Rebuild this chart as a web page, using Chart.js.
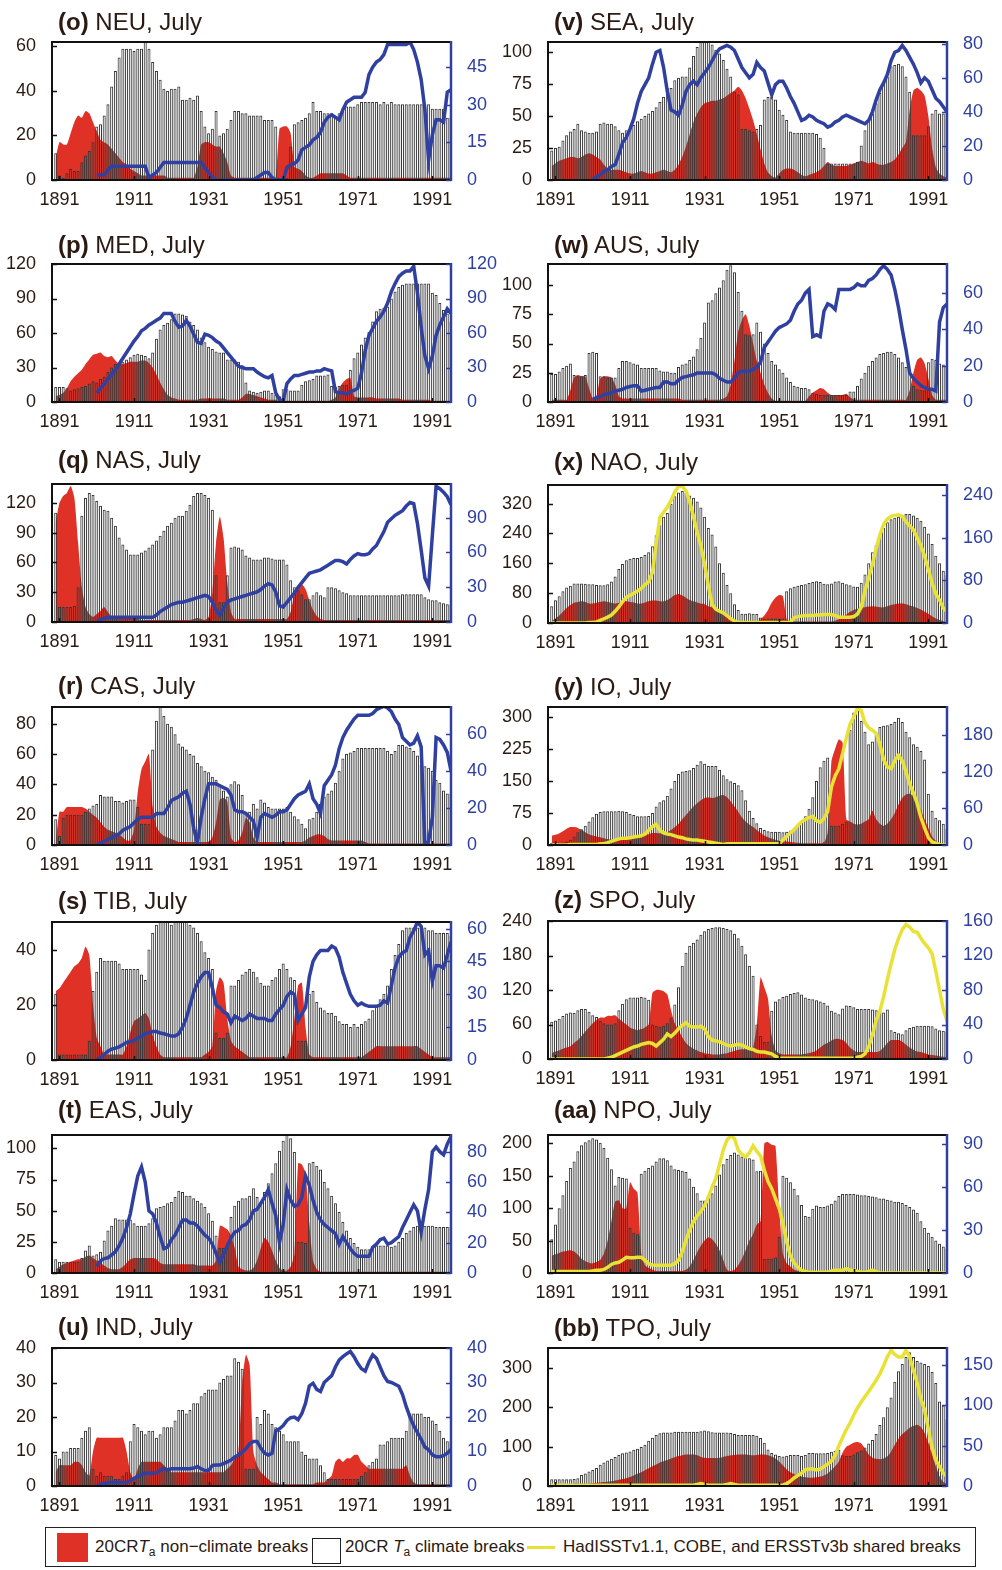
<!DOCTYPE html>
<html>
<head>
<meta charset="utf-8">
<script src="https://cdn.jsdelivr.net/npm/chart.js@4.4.0/dist/chart.umd.min.js"></script>
<style>
  body { margin: 0; width: 1002px; height: 1570px; background: #fff; position: relative; overflow: hidden;
         font-family: 'Liberation Sans', Arial, sans-serif; color: #2a1a12; }
  canvas.panel { position: absolute; }
  .title { position: absolute; font-size: 24px; line-height: 28px; white-space: nowrap; }
  #legend { position: absolute; left: 45px; top: 1527px; width: 931px; height: 40px; border: 1px solid #222; box-sizing: border-box; font-size: 17px; }
  #legend .it { position: absolute; top: 9px; white-space: nowrap; }
  #legend sub { font-size: 12px; vertical-align: -4px; }
</style>
</head>
<body>
<div id="charts"></div>
<div id="legend">
  <div style="position:absolute;left:11px;top:5px;width:31px;height:29px;background:#df3126"></div>
  <div class="it" style="left:49px">20CR<i>T</i><sub>a</sub> non−climate breaks</div>
  <div style="position:absolute;left:266px;top:10px;width:27px;height:24px;border:1.5px solid #222"></div>
  <div class="it" style="left:299px">20CR <i>T</i><sub>a</sub> climate breaks</div>
  <div style="position:absolute;left:481px;top:18px;width:28px;height:3px;background:#e9e236"></div>
  <div class="it" style="left:517px">HadISSTv1.1, COBE, and ERSSTv3b shared breaks</div>
</div>
<script>
// years: bars and red areas run 1890-1996, blue lines 1901-1996, yellow lines 1890-1996
const firstYear = 1890;
const blueStart = 1901;
const yellowStart = 1890;
const xTicks = [1891, 1911, 1931, 1951, 1971, 1991];

// (o) NEU
const neuBars = [12,2,1,3,5,4,4,8,11,13, 17,24,25,29,34,42,49,55,59,59, 59,58,59,59,62,59,53,49,45,41,
  40,41,41,42,36,36,37,36,38,31, 24,21,23,31,20,21,23,27,31,31, 30,30,29,29,29,29,27,27,27,24,
  1,1,1,15,25,26,27,28,30,35, 31,31,30,30,30,28,30,31,33,33, 33,34,35,35,35,35,35,34,35,34,
  35,34,34,34,34,34,34,34,34,34, 34,32,32,32,32,28,28];
const neuRed = [10,17,16,16,21,26,29,28,31,30, 26,22,18,17,16,14,12,10,8,7, 5,4,3,2,2,2,2,2,2,2,
  1,1,1,1,1,1,1,1,6,16, 17,17,16,15,15,12,8,2,1,1, 1,1,1,1,1,1,1,1,1,1,
  23,24,24,21,6,5,4,2,1,1, 2,3,3,3,3,3,3,3,2,1, 1,1,1,1,1,1,1,1,1,1,
  1,1,1,1,1,1,1,1,1,1, 1,1,1,1,1,1,1];
const neuLine = [2,2,2,4,5.5,5.5,5.5,5.5,5.5, 5.5,5.5,5.5,5.5,5.5,1,2,3,5,7, 7,7,7,7,7,7,7,7,7,7,
  5,3,1,0,0,0,0,0,0,0, 0,0,0,0,1,2,3,3,1,0, 0,0,5,6,6.5,8,12,13,14,16,
  17,19,23,25,26,25,24,28,31,32, 33,33,33,35,42,45,47,48,50,54, 54,54,54,54,54,55,52,47,40,28,
  8,18,24,24,23,35,36];
const neuTicks = [0, 20, 40, 60];
const neuTicks2 = [0, 15, 30, 45];

// (p) MED
const medBars = [13,13,13,12,10,11,12,13,14,16, 18,17,20,22,26,30,33,34,35,37, 39,41,42,41,40,38,43,55,63,67,
  69,72,77,77,76,75,70,67,63,56, 52,48,46,44,43,43,37,37,37,35, 32,17,10,9,8,9,10,10,8,6,
  5,11,11,10,10,10,15,18,19,20, 23,23,23,24,14,13,14,15,15,28, 38,43,50,56,61,70,79,81,82,83,
  90,96,100,102,103,103,103,103,103,103, 103,95,93,86,80,77,70];
const medRed = [5,6,8,12,18,22,25,28,33,37, 41,42,43,40,39,40,36,33,33,34, 35,35,35,36,36,34,30,24,17,11,
  6,4,3,2,2,2,2,2,2,3, 3,3,3,3,3,3,2,2,2,2, 4,7,7,6,5,4,3,2,2,2,
  1,1,1,1,1,1,1,1,1,1, 1,1,1,1,2,4,12,17,20,21, 5,4,4,4,4,4,3,3,3,3,
  3,3,3,2,2,2,2,2,2,2, 2,1,1,1,1,1,1];
const medLine = [8,12,16,20,24,28,33,38,43, 48,53,57,62,64,67,69,71,73,77, 77,77,70,65,66,71,66,59,52,51,
  59,58,56,53,51,47,43,39,35,31, 30,29,29,29,26,24,22,21,23,8, 2,1,16,20,23,23,24,25,26,26,
  27,27,29,28,27,9,8,8,7,9, 10,12,25,45,58,64,70,74,79,86, 96,103,109,112,114,114,118,95,65,40,
  29,40,58,67,74,81,77];
const medTicks = [0, 30, 60, 90, 120];
const medTicks2 = [0, 30, 60, 90, 120];

// (q) NAS
const nasBars = [110,15,15,15,15,16,35,107,125,130, 128,122,117,113,112,105,97,85,78,73, 68,68,68,70,72,75,78,82,87,92,
  97,100,105,107,107,112,118,127,130,130, 128,125,113,47,20,20,47,75,76,75, 73,67,65,63,63,63,65,65,64,63,
  63,63,58,42,35,32,28,23,23,27, 30,27,25,35,35,34,32,30,29,27, 27,27,27,27,27,27,27,27,27,27,
  27,27,27,28,28,28,28,28,28,25, 23,22,22,20,19,18,17];
const nasRed = [100,120,127,130,137,125,80,35,15,8, 5,8,11,15,10,5,3,3,3,3, 3,3,3,2,2,2,2,2,2,2,
  2,2,2,2,2,2,2,3,4,3, 2,5,30,80,106,85,40,10,3,3, 3,3,3,3,3,3,3,3,3,3,
  3,3,3,10,28,36,38,33,22,12, 6,3,2,2,2,2,2,2,2,2, 2,2,2,2,2,2,2,2,2,2,
  2,2,2,2,2,2,2,2,2,2, 2,2,2,2,2,2,2];
const nasLine = [1,2,3,4,4,4,4,4,4, 4,4,4,4,4,4,4,6,9,11, 13,15,16,17,17,18,19,20,21,22,
  23,22,17,10,6,12,17,19,20,21, 22,23,24,25,26,28,31,33,32,26, 14,13,17,21,25,30,34,38,42,43,
  44,45,47,49,51,53,53,52,50,54, 57,59,58,58,59,63,66,72,78,86, 89,92,94,96,100,103,102,85,62,38,
  31,75,117,115,112,108,101];
const nasTicks = [0, 30, 60, 90, 120];
const nasTicks2 = [0, 30, 60, 90];

// (r) CAS
const casBars = [17,6,18,20,20,20,20,20,22,24, 26,27,33,32,32,32,29,29,28,29, 30,30,25,14,14,14,63,82,91,85,
  80,78,73,67,65,63,60,59,54,52, 49,48,45,43,40,36,32,40,42,40, 33,22,22,27,24,30,28,25,24,24,
  24,24,25,22,19,17,14,11,17,18, 22,27,32,34,36,41,49,57,60,61, 62,64,64,64,64,64,64,64,64,62,
  60,62,66,66,65,64,62,59,53,52, 51,49,43,41,36,34,34];
const casRed = [2,22,22,25,25,25,25,25,24,22, 20,18,15,12,10,9,8,7,5,3, 3,10,35,50,55,60,25,12,8,6,
  5,4,3,2,2,2,2,2,2,2, 2,2,5,15,30,31,29,5,2,3, 8,18,15,5,2,2,2,2,2,2,
  2,2,2,2,2,2,2,3,5,6, 7,7,6,4,3,3,3,3,3,3, 3,3,3,2,1,1,1,1,1,1,
  1,1,1,1,1,1,1,1,1,1, 1,1,1,1,1,1,1];
const casLine = [0,1,2,3,4,5,6,8,9, 10,12,14,15,15,15,15,17,17,17, 20,24,25,26,28,29,22,9,1,15,
  25,33,33,33,32,31,30,27,19,18, 18,17,15,13,4,15,17,16,15,16, 18,18,19,22,25,27,28,29,33,25,
  22,17,32,35,38,43,52,58,62,65, 68,70,70,70,70,71,73,74,75,74, 72,68,65,58,56,54,55,59,53,0,
  2,15,58,57,54,50,40];
const casTicks = [0, 20, 40, 60, 80];
const casTicks2 = [0, 20, 40, 60];

// (s) TIB
const tibBars = [24,2,2,2,2,2,2,2,2,7, 25,32,37,36,36,36,36,35,33,33, 33,33,33,31,29,40,46,49,50,50,
  50,49,50,50,50,50,49,48,46,43, 39,37,33,10,8,8,10,27,27,29, 31,32,33,32,30,28,27,27,29,30,
  33,35,33,30,29,7,7,7,24,25, 21,19,18,17,17,16,14,13,13,12, 13,12,13,14,15,18,20,22,24,27,
  33,38,42,47,48,48,48,48,48,48, 47,47,46,46,46,46,45];
const tibRed = [25,26,28,30,32,34,35,37,41,38, 20,8,5,2,2,2,2,2,2,5, 10,14,15,16,17,15,9,5,2,1,
  1,1,1,1,1,1,1,1,1,1, 2,3,5,25,30,28,15,7,5,4, 3,2,1,1,1,1,1,1,1,1,
  1,1,1,5,15,27,28,12,2,1, 1,1,1,1,1,1,1,1,1,1, 1,1,1,2,3,4,5,5,5,5,
  5,5,5,5,5,5,5,5,4,3, 2,1,1,1,1,1,1];
const tibLine = [0,1,2.5,4,5,5.4,6,7,8, 8.4,9,10,11,12,12.5,13,13,12.3,12, 11.5,11,11,12,15,19,25,31,35,38,
  40,40,33,25,24,22,21,17,20,19, 18,19,21,20,19,19,19,18,18,21, 23,25,29,31,30,18,21,24,38,45,
  48,50,50,50,52,51,47,40,35,30, 27,25,26,25,24.5,24.5,24.5,25,27,26, 34,42,47,49,50,56,59,63,61,48,
  50,36,43,43,42,48,54];
const tibTicks = [0, 20, 40];
const tibTicks2 = [0, 15, 30, 45, 60];

// (t) EAS
const easBars = [11,9,9,9,9,9,9,12,18,22, 14,15,17,26,34,38,44,43,43,43, 43,40,38,38,38,40,44,52,53,54,
  56,57,61,66,65,62,62,60,58,56, 53,48,42,30,20,20,22,45,54,58, 60,60,62,68,61,57,65,72,80,88,
  98,106,111,108,97,25,25,24,88,89, 86,83,73,68,62,56,49,41,34,28, 24,21,19,19,19,20,22,22,22,22,
  21,22,25,28,32,34,37,38,38,38, 38,38,37,37,37,37,37];
const easRed = [3,5,7,8,9,10,11,11,13,14, 12,10,8,6,4,3,3,3,5,8, 11,12,12,12,12,12,12,11,8,7,
  7,7,7,7,7,7,7,7,6,6, 6,6,6,10,38,37,35,30,20,5, 3,2,2,4,10,20,28,25,18,10,
  4,2,2,5,15,88,87,80,40,10, 3,1,1,1,1,1,1,1,1,1, 1,1,1,1,1,1,1,1,1,1,
  1,1,1,1,1,1,1,1,1,1, 1,1,1,1,1,1,1];
const easLine = [4.4,8,9.5,10,12,14,18,23,30, 39,52,64,70,60,41,39,33,24,16, 17,22,25,30,35,35,33,33,31,28,
  25,23,19,13,7,12,18,23,27,28, 31,32,35,41,42,46,50,55,46,38, 20,32,55,48,44,45,50,64,58,48,
  40,35,32,30,28,26,19,24,20,16, 13,11,11,11,11,17,19,22,23,19, 20,22,24,30,35,40,45,41,27,42,
  55,80,83,80,78,85,90];
const easTicks = [0, 25, 50, 75, 100];
const easTicks2 = [0, 20, 40, 60, 80];

// (u) IND
const indBars = [9,8,10,10,11,11,11,14,16,17, 5,3,4,3,3,3,2,2,3,4, 13,18,17,16,15,16,16,14,15,17,
  17,17,19,22,22,21,22,24,24,26, 27,28,28,28,30,31,32,32,37,36, 34,5,5,5,20,18,22,21,18,17,
  16,15,13,13,13,13,10,9,8,8, 8,6,4,2,2,2,2,2,2,2, 2,2,3,4,6,7,8,12,12,13,
  14,14,14,14,16,21,21,21,21,20, 20,19,18,16,14,13,13];
const indRed = [4,6,6,6,6,7,7,6,4,3, 10,14,14,14,14,14,14,14,14,10, 4,2,5,7,7,7,7,7,7,6,
  5,4,4,4,4,4,4,4,4,4, 4,4,4,4,4,4,5,6,8,10, 30,38,35,10,6,4,3,2,1,1,
  0.5,0.5,0.5,0.5,0.5,0.5,0.5,0.5,0.5,0.5, 1,1,1,2,3,7,8,7,8,8, 9,9,7,6,5,5,5,5,5,5,
  5,5,5,5,6,3,1,0.5,0.5,0.5, 0.5,0.5,0.5,0.5,0.5,0.5,0.5];
const indLine = [0,0.5,0.7,0.9,1,1,1,1,1, 1.5,2.2,2.8,3.3,3.7,3.7,3.7,3.8,4.5,5, 4.7,5,5,5,5,5,5,5.2,5.6,5,
  4.5,4.5,6,6.1,6.1,6.5,7,7.5,8.4,9, 9.8,10.8,12.2,12.9,12.9,11,9.5,9,9.5,16, 16.6,17.5,19,19.8,20,19.2,21,24,29,29.8,
  28,27.4,30,31,32,34.5,36.5,37.5,38.3,39, 37.5,35.5,34,33.3,36,38,37,34.5,32,30.3, 30,29.5,28.9,26.5,23,20,17.5,15.5,13.5,11.3,
  10.5,9,8.5,8.5,8.8,9.5,10.6];
const indTicks = [0, 10, 20, 30, 40];
const indTicks2 = [0, 10, 20, 30, 40];

// (v) SEA
const seaBars = [23,25,26,31,35,38,40,44,39,38, 37,37,38,44,45,44,44,42,39,37, 39,40,43,46,48,50,52,54,57,61,
  65,72,72,78,80,81,81,88,97,104, 108,108,108,106,102,99,94,87,81,69, 67,40,40,39,38,40,43,63,65,65,
  63,55,51,47,38,37,37,37,37,37, 37,36,33,25,13,13,13,13,13,13, 13,13,14,27,39,47,52,60,68,76,
  81,89,90,91,89,81,69,35,35,35, 35,42,52,55,52,52,52];
const seaRed = [11,13,15,16,17,18,18,17,18,20, 21,20,18,16,12,9,8,8,8,7, 6,5,5,6,7,6,5,5,6,7,
  8,7,6,8,12,18,26,36,45,52, 57,60,61,62,62,63,64,66,68,70, 73,70,64,56,47,36,24,13,6,3,
  2,5,8,9,9,8,6,4,3,4, 5,6,8,11,14,12,11,11,11,11, 12,13,14,15,14,13,14,13,12,12,
  13,14,16,20,25,30,55,70,72,70, 66,50,25,10,5,3,2];
const seaLine = [0,2,3,5,6,8,9,15,22, 25,30,36,45,52,56,60,68,75,76, 66,52,41,40,38,44,52,56,58,56,
  60,63,66,70,74,77,78,79,78,76, 71,66,63,60,62,69,66,64,57,50, 56,58,58,54,49,45,40,35,36,38,
  37,35,34,33,31,32,34,35,37,38, 37,36,35,34,33,35,40,47,53,57, 62,70,75,76,79,76,72,68,63,57,
  60,58,53,48,46,43,40];
const seaTicks = [0, 25, 50, 75, 100];
const seaTicks2 = [0, 20, 40, 60, 80];

// (w) AUS
const ausBars = [24,24,26,29,31,33,23,22,22,23, 42,43,42,22,22,21,21,21,29,35, 35,34,33,32,29,29,29,29,29,27,
  26,26,25,25,30,32,33,36,39,45, 55,68,85,87,93,98,104,113,117,111, 94,78,58,57,58,68,60,50,42,35,
  32,28,25,21,17,14,13,12,12,11, 8,7,6,6,6,6,6,6,6,6, 9,9,14,20,25,31,35,38,41,42,
  43,43,41,38,34,30,25,14,11,10, 10,34,37,36,33,32,30];
const ausRed = [2,2,2,2,2,10,21,23,22,22, 12,3,5,20,22,22,21,15,5,3, 3,3,3,3,3,3,3,3,3,3,
  3,3,3,3,3,2,2,2,2,2, 2,2,2,2,2,2,3,5,15,35, 60,70,75,65,50,35,25,15,8,3,
  1,1,1,1,1,1,1,1,1,5, 8,10,12,11,8,6,6,6,6,7, 4,2,2,2,2,2,2,2,2,2,
  2,2,2,2,2,2,10,25,36,38, 33,20,6,2,2,2,2];
const ausLine = [1.5,2.4,3,4,4.5,5,6,6.5,7, 8,8.5,9,9,6,6.5,7,7.5,8,8, 11,11,10,10,12,13.5,14,14.5,15,16,
  16,16,16,16,15,13,12,11,11,13, 16,17,17,17,18,19,22,30,33,36, 39,41,42,43,45,50,54,56,60,62,
  36,37,36,50,54,53,51,62,62,62, 62,63,65,64,64,67,68,70,73,75, 73,70,62,52,40,29,16,13,11,9,
  8,7,7,6,44,52,54];
const ausTicks = [0, 25, 50, 75, 100];
const ausTicks2 = [0, 20, 40, 60];

// (x) NAO
const naoBars = [45,61,72,85,95,100,106,106,106,105, 104,104,102,101,101,104,111,125,145,158, 168,172,174,174,177,182,190,206,235,262,
  285,295,320,340,350,354,350,342,336,326, 310,285,255,237,205,160,135,102,80,50, 35,25,25,26,25,24,15,12,12,12,
  12,12,12,85,93,97,100,102,104,107, 110,112,110,105,104,106,111,112,108,104, 101,98,97,108,130,160,190,210,235,255,
  270,278,282,285,289,292,292,288,282,274, 258,240,212,180,160,140,128];
const naoRed = [5,12,20,30,40,48,54,56,58,56, 52,52,54,56,58,56,54,52,54,56, 58,56,55,52,52,55,58,60,60,58,
  58,62,68,75,78,74,68,62,58,55, 52,50,45,42,38,30,22,15,8,3, 3,3,3,3,3,3,10,20,35,55,
  68,75,72,10,4,4,4,4,4,4, 4,4,4,4,4,4,6,10,15,22, 30,35,38,40,42,44,45,44,42,42,
  45,48,50,52,52,50,47,44,40,36, 30,25,18,12,8,5,3];
const naoLine = [0,0,0,0,0,0,0,0,0,0, 1,1,2,5,8,11,15,22,30,40, 48,52,56,60,65,72,77,95,150,198,
  208,217,230,246,256,257,248,228,200,170, 145,110,70,35,26,22,19,14,8,4, 1,1,1,1,1,1,1,1,1,1,
  1,1,1,1,1,10,12,13,14,14, 14,15,15,16,16,16,14,11,11,11, 11,12,17,30,60,85,110,140,165,185,
  195,200,202,203,200,190,182,175,160,145, 125,100,75,55,43,28,21];
const naoTicks = [0, 80, 160, 240, 320];
const naoTicks2 = [0, 80, 160, 240];

// (y) IO
const ioBars = [5,5,5,6,8,12,20,30,37,45, 55,65,73,77,79,79,79,79,80,79, 77,73,70,67,67,67,68,75,90,100,
  105,115,132,150,166,172,173,175,180,188, 196,190,185,185,185,176,163,154,149,145, 140,128,105,80,63,51,40,35,32,31,
  31,31,30,31,34,39,46,55,67,85, 112,150,182,197,205,45,45,45,50,55, 270,310,322,290,265,236,242,262,276,279,
  280,283,288,298,288,265,252,236,230,220, 200,120,80,64,58,50,38];
const ioRed = [22,24,27,32,38,42,42,40,35,30, 25,22,20,18,16,14,12,12,13,14, 15,16,17,18,20,22,25,28,28,27,
  27,30,35,42,50,60,70,80,90,98, 105,110,111,110,112,115,117,112,102,90, 78,65,55,48,42,35,28,22,18,15,
  12,10,9,8,7,6,5,4,4,4, 4,4,4,5,30,195,225,247,240,60, 55,50,48,50,55,60,80,60,50,45,
  50,60,75,95,110,118,120,115,100,82, 60,40,20,10,5,3,2];
const ioLine = [0,0,0,0,0,1,1,1,1,1, 1,1,1,2,2,4,6,8,10,11, 11,12,13,14,15,18,24,30,34,24,
  20,18,17,15,13,12,10,9,8,8, 7,6,5,4,3,2,1,2,2,2, 2,2,2,2,2,2,2,2,2,2,
  2,2,8,14,20,25,32,38,42,45, 47,40,37,43,55,95,113,125,150,175, 198,210,224,220,200,192,188,183,165,140,
  128,125,138,147,138,120,100,85,68,45, 28,12,5,3,1,0,0];
const ioTicks = [0, 75, 150, 225, 300];
const ioTicks2 = [0, 60, 120, 180];

// (z) SPO
const spoBars = [65,67,70,75,79,81,80,85,87,87, 82,76,73,66,62,60,60,62,85,96, 104,107,107,107,108,107,103,60,58,56,
  58,62,72,95,125,162,185,197,202,208, 216,222,226,228,229,229,228,226,224,218, 210,197,182,162,145,60,40,30,30,84,
  100,104,108,110,113,115,116,112,107,105, 104,102,100,98,93,84,81,78,88,93, 92,90,87,87,87,87,86,85,84,81,
  86,50,47,45,43,50,54,56,58,58, 58,58,57,53,50,49,48];
const spoRed = [10,13,15,18,20,22,28,33,40,48, 55,62,68,72,72,75,75,76,70,65, 60,55,52,50,52,55,60,115,120,120,
  118,112,85,62,50,38,28,22,18,15, 12,10,9,8,8,8,9,10,12,14, 16,17,17,16,20,60,142,125,105,40,
  15,10,8,8,8,8,8,8,9,10, 12,15,20,25,28,32,35,35,33,28, 20,15,12,12,12,12,12,12,14,20,
  28,33,33,33,30,25,20,16,13,12, 10,8,7,6,5,4,3];
const spoLine = [0,0,0,0,0,0,0,0,0,0, 0,0,0,0,0,1,2,4,6,8, 10,12,14,15,17,18,19,18,15,19,
  23,29,26,30,35,39,42,38,37,37, 38,35,26,22,21,20,18,16,15,16, 17,16,14,12,11,9,8,8,7,6,
  3,1,1,1,1,1,1,1,1,1, 1,1,1,1,1,1,1,1,1,1, 1,1,2,3,6,14,28,45,56,72,
  92,110,127,140,150,156,153,148,147,140, 134,129,122,102,80,58,44];
const spoTicks = [0, 60, 120, 180, 240];
const spoTicks2 = [0, 40, 80, 120, 160];

// (aa) NPO
const npoBars = [52,75,100,120,142,162,172,188,197,202, 205,208,206,201,193,178,160,135,148,147, 146,70,62,60,153,158,162,166,172,177,
  177,174,166,160,159,158,156,146,133,123, 112,112,118,123,135,152,168,176,182,186, 183,180,178,177,175,157,158,22,22,22,
  24,56,150,147,140,130,120,105,88,87, 99,104,102,102,104,107,112,119,122,122, 122,122,121,120,120,119,118,117,115,115,
  113,112,110,110,108,105,102,98,93,80, 70,62,56,50,45,41,38];
const npoRed = [27,29,31,33,34,35,33,28,22,18, 16,15,17,20,30,50,80,110,112,100, 100,140,130,124,30,12,8,5,3,3,
  3,3,3,3,3,3,5,10,20,32, 42,50,55,52,45,35,20,5,3,5, 12,22,35,50,60,75,80,200,202,198,
  196,100,30,15,10,5,3,1,1,1, 1,1,1,1,1,1,1,1,1,1, 1,1,1,1,1,1,1,1,1,1,
  1,1,1,1,1,1,1,1,1,1, 1,1,1,1,1,1,1];
const npoLine = [1,1,1,1,1,1,1,1,1,1, 1,1.5,2,2,2.5,4,6,7,7.5,9, 11,10.7,10.7,11,11,9,6.5,5.5,5.4,5.4,
  5.4,5.4,5.4,6.5,9,15,23,30,36,40, 43,47,53,60,66,76,86,93,96,94, 86,83,81,84,89,85,82,72,64,59,
  52,45,35,22,12,7,4,2,1,0.5, 0.5,0.5,0.5,0.5,0.5,1.5,2,2,2,3, 2,2,1,0.5,0.5,1,2,1,0,0,
  0,0,0,0,0,0,0,0,0,0, 0,0,0,0,0,0,0];
const npoTicks = [0, 50, 100, 150, 200];
const npoTicks2 = [0, 30, 60, 90];

// (bb) TPO
const tpoBars = [17,17,17,17,17,17,18,20,28,32, 37,41,46,54,60,65,69,74,79,83, 85,88,92,95,99,105,115,123,130,134,
  136,136,136,138,138,138,138,138,138,138, 139,141,139,137,136,136,136,136,135,132, 130,130,130,130,130,128,122,110,93,84,
  80,76,75,77,79,79,79,76,79,84, 84,83,83,83,84,87,89,92,78,76, 76,80,86,90,98,108,117,132,155,175,
  200,225,265,292,310,328,340,328,318,314, 310,305,290,262,215,205,170];
const tpoRed = [5,5,5,5,5,5,6,6,6,6, 6,7,8,9,10,11,12,14,16,18, 20,23,27,31,35,40,45,50,55,60,
  63,66,70,73,76,78,80,80,80,78, 74,72,71,71,71,72,74,76,78,79, 80,80,80,79,78,79,80,80,78,75,
  70,62,52,42,35,30,27,24,22,21, 21,22,24,27,32,40,50,62,85,100, 105,110,112,108,95,80,72,69,68,70,
  75,88,105,120,132,140,148,153,156,150, 135,110,80,50,25,10,5];
const tpoLine = [1,1,1,1,1,1,1,1,1,1, 1,1,1,1,1,1,1,1,1,1, 1,1,1,1,1,1,1,1,1,1,
  1,1,1,1,1,1,1,1,1,2, 3,2,1,1,1,1,1,2,3,2, 1,1,1,1,1,1,1,1,1,1,
  1,1,1,3,6,10,13,16,20,21, 21,20,21,24,27,31,38,50,60,70, 78,88,97,104,111,117,124,131,139,149,
  160,168,163,160,160,168,160,143,128,108, 94,70,48,32,24,16,12];
const tpoTicks = [0, 100, 200, 300];
const tpoTicks2 = [0, 50, 100, 150];

const RED = '#df3126';
const BLUE = '#2f40a0';
const YELLOW = '#e9e236';
const INK = '#2a1a12';

Chart.defaults.font.family = "'Liberation Sans', Arial, sans-serif";
Chart.defaults.font.size = 18;
Chart.defaults.color = INK;

// panel layout: column, plot top (px), title centre (px)
const panels = [
  { tag: '(o)', name: 'NEU', col: 0, top: 42,   ty: 22,   bars: neuBars, red: neuRed, line: neuLine, yellow: false, yMax: 62,   yTicks: neuTicks, y2Max: 55,   y2Ticks: neuTicks2 },
  { tag: '(p)', name: 'MED', col: 0, top: 264,  ty: 245,  bars: medBars, red: medRed, line: medLine, yellow: false, yMax: 120,  yTicks: medTicks, y2Max: 120,  y2Ticks: medTicks2 },
  { tag: '(q)', name: 'NAS', col: 0, top: 484,  ty: 460,  bars: nasBars, red: nasRed, line: nasLine, yellow: false, yMax: 139,  yTicks: nasTicks, y2Max: 119,  y2Ticks: nasTicks2 },
  { tag: '(r)', name: 'CAS', col: 0, top: 707,  ty: 686,  bars: casBars, red: casRed, line: casLine, yellow: false, yMax: 91,   yTicks: casTicks, y2Max: 74.5, y2Ticks: casTicks2 },
  { tag: '(s)', name: 'TIB', col: 0, top: 922,  ty: 901,  bars: tibBars, red: tibRed, line: tibLine, yellow: false, yMax: 50,   yTicks: tibTicks, y2Max: 63,   y2Ticks: tibTicks2 },
  { tag: '(t)', name: 'EAS', col: 0, top: 1135, ty: 1110, bars: easBars, red: easRed, line: easLine, yellow: false, yMax: 110.7,yTicks: easTicks, y2Max: 91,   y2Ticks: easTicks2 },
  { tag: '(u)', name: 'IND', col: 0, top: 1348, ty: 1327, bars: indBars, red: indRed, line: indLine, yellow: false, yMax: 40,   yTicks: indTicks, y2Max: 40,   y2Ticks: indTicks2 },
  { tag: '(v)', name: 'SEA', col: 1, top: 42,   ty: 22,   bars: seaBars, red: seaRed, line: seaLine, yellow: false, yMax: 108,  yTicks: seaTicks, y2Max: 81,   y2Ticks: seaTicks2 },
  { tag: '(w)', name: 'AUS', col: 1, top: 264,  ty: 245,  bars: ausBars, red: ausRed, line: ausLine, yellow: false, yMax: 118,  yTicks: ausTicks, y2Max: 76,   y2Ticks: ausTicks2 },
  { tag: '(x)', name: 'NAO', col: 1, top: 485,  ty: 462,  bars: naoBars, red: naoRed, line: naoLine, yellow: true,  yMax: 370,  yTicks: naoTicks, y2Max: 259,  y2Ticks: naoTicks2 },
  { tag: '(y)', name: 'IO',  col: 1, top: 707,  ty: 687,  bars: ioBars,  red: ioRed,  line: ioLine,  yellow: true,  yMax: 323,  yTicks: ioTicks,  y2Max: 226,  y2Ticks: ioTicks2 },
  { tag: '(z)', name: 'SPO', col: 1, top: 921,  ty: 900,  bars: spoBars, red: spoRed, line: spoLine, yellow: true,  yMax: 240,  yTicks: spoTicks, y2Max: 160,  y2Ticks: spoTicks2 },
  { tag: '(aa)',name: 'NPO', col: 1, top: 1135, ty: 1110, bars: npoBars, red: npoRed, line: npoLine, yellow: true,  yMax: 213,  yTicks: npoTicks, y2Max: 96.5, y2Ticks: npoTicks2 },
  { tag: '(bb)',name: 'TPO', col: 1, top: 1348, ty: 1328, bars: tpoBars, red: tpoRed, line: tpoLine, yellow: true,  yMax: 351,  yTicks: tpoTicks, y2Max: 171,  y2Ticks: tpoTicks2 }
];

const PLOT_H = 138, PAD_TOP = 12, X_H = 28, CANVAS_W = 500;

const toPoints = (arr, start) => arr.map((v, i) => ({ x: start + i, y: v }));

// stop Chart.js from reserving extra room for the outer tick labels
const noPad = s => { s.paddingTop = 0; s.paddingBottom = 0; s.paddingLeft = 0; s.paddingRight = 0; };

// black box on top/left/bottom, blue right axis, MATLAB-style inward ticks
const framePlugin = {
  id: 'frame',
  afterDatasetsDraw(chart) {
    const { ctx, chartArea: a, scales } = chart;
    ctx.save();
    ctx.strokeStyle = '#111';
    ctx.lineWidth = 2;
    ctx.beginPath();
    ctx.moveTo(a.right, a.top);
    ctx.lineTo(a.left, a.top);
    ctx.lineTo(a.left, a.bottom);
    ctx.lineTo(a.right, a.bottom);
    ctx.stroke();
    ctx.lineWidth = 1.5;
    ctx.beginPath();
    scales.y.ticks.forEach(t => {
      const y = Math.round(scales.y.getPixelForValue(t.value)) + 0.5;
      ctx.moveTo(a.left, y); ctx.lineTo(a.left + 5, y);
    });
    scales.x.ticks.forEach(t => {
      const x = Math.round(scales.x.getPixelForValue(t.value)) + 0.5;
      ctx.moveTo(x, a.bottom); ctx.lineTo(x, a.bottom - 4);
    });
    ctx.stroke();
    ctx.strokeStyle = BLUE;
    ctx.lineWidth = 2.5;
    ctx.beginPath();
    ctx.moveTo(a.right, a.top - 1); ctx.lineTo(a.right, a.bottom + 1);
    ctx.stroke();
    ctx.lineWidth = 1.5;
    ctx.beginPath();
    scales.y2.ticks.forEach(t => {
      const y = Math.round(scales.y2.getPixelForValue(t.value)) + 0.5;
      ctx.moveTo(a.right, y); ctx.lineTo(a.right - 5, y);
    });
    ctx.stroke();
    ctx.restore();
  }
};

const holder = document.getElementById('charts');

panels.forEach(p => {
  const left = p.col === 0 ? 0 : 496;
  const canvas = document.createElement('canvas');
  canvas.className = 'panel';
  canvas.width = CANVAS_W;
  canvas.height = PAD_TOP + PLOT_H + X_H;
  canvas.style.left = left + 'px';
  canvas.style.top = (p.top - PAD_TOP) + 'px';
  holder.appendChild(canvas);

  const title = document.createElement('div');
  title.className = 'title';
  title.style.left = (left + 58) + 'px';
  title.style.top = (p.ty - 14) + 'px';
  title.innerHTML = '<b>' + p.tag + '</b> ' + p.name + ', July';
  document.body.appendChild(title);

  new Chart(canvas.getContext('2d'), {
    type: 'bar',
    data: {
      datasets: [
        {
          type: 'line',
          label: 'shared breaks',
          data: toPoints(p.line, p.yellow ? yellowStart : blueStart),
          yAxisID: 'y2',
          borderColor: p.yellow ? YELLOW : BLUE,
          borderWidth: 3.5,
          pointRadius: 0,
          tension: 0,
          fill: false,
          order: 0
        },
        {
          type: 'bar',
          label: '20CR climate breaks',
          data: toPoints(p.bars, firstYear),
          yAxisID: 'y',
          backgroundColor: 'rgba(255,255,255,0)',
          borderColor: '#383838',
          borderWidth: 1,
          borderSkipped: false,
          barPercentage: 0.82,
          categoryPercentage: 1,
          order: 1
        },
        {
          type: 'line',
          label: '20CR non-climate breaks',
          data: toPoints(p.red, firstYear),
          yAxisID: 'y',
          borderWidth: 0,
          borderColor: RED,
          backgroundColor: RED,
          pointRadius: 0,
          tension: 0.2,
          fill: 'origin',
          order: 2
        }
      ]
    },
    options: {
      responsive: false,
      animation: false,
      events: [],
      devicePixelRatio: 1,
      layout: { padding: { top: PAD_TOP, left: 0, right: 0, bottom: 0 } },
      plugins: { legend: { display: false }, tooltip: { enabled: false } },
      scales: {
        x: {
          type: 'linear',
          min: 1889,
          max: 1996,
          offset: false,
          grid: { display: false },
          border: { display: false },
          ticks: { padding: 1, maxRotation: 0, autoSkip: false, callback: v => String(v) },
          afterBuildTicks: s => { s.ticks = xTicks.map(v => ({ value: v })); },
          afterFit: s => { s.height = X_H; noPad(s); }
        },
        y: {
          type: 'linear',
          position: 'left',
          min: 0,
          max: p.yMax,
          grid: { display: false },
          border: { display: false },
          ticks: { padding: 8, callback: v => String(v) },
          afterBuildTicks: s => { s.ticks = p.yTicks.map(v => ({ value: v })); },
          afterFit: s => { s.width = 52; noPad(s); }
        },
        y2: {
          type: 'linear',
          position: 'right',
          min: 0,
          max: p.y2Max,
          grid: { display: false },
          border: { display: false },
          ticks: { padding: 8, color: BLUE, callback: v => String(v) },
          afterBuildTicks: s => { s.ticks = p.y2Ticks.map(v => ({ value: v })); },
          afterFit: s => { s.width = 49; noPad(s); }
        }
      }
    },
    plugins: [framePlugin]
  });
});
</script>
</body>
</html>
